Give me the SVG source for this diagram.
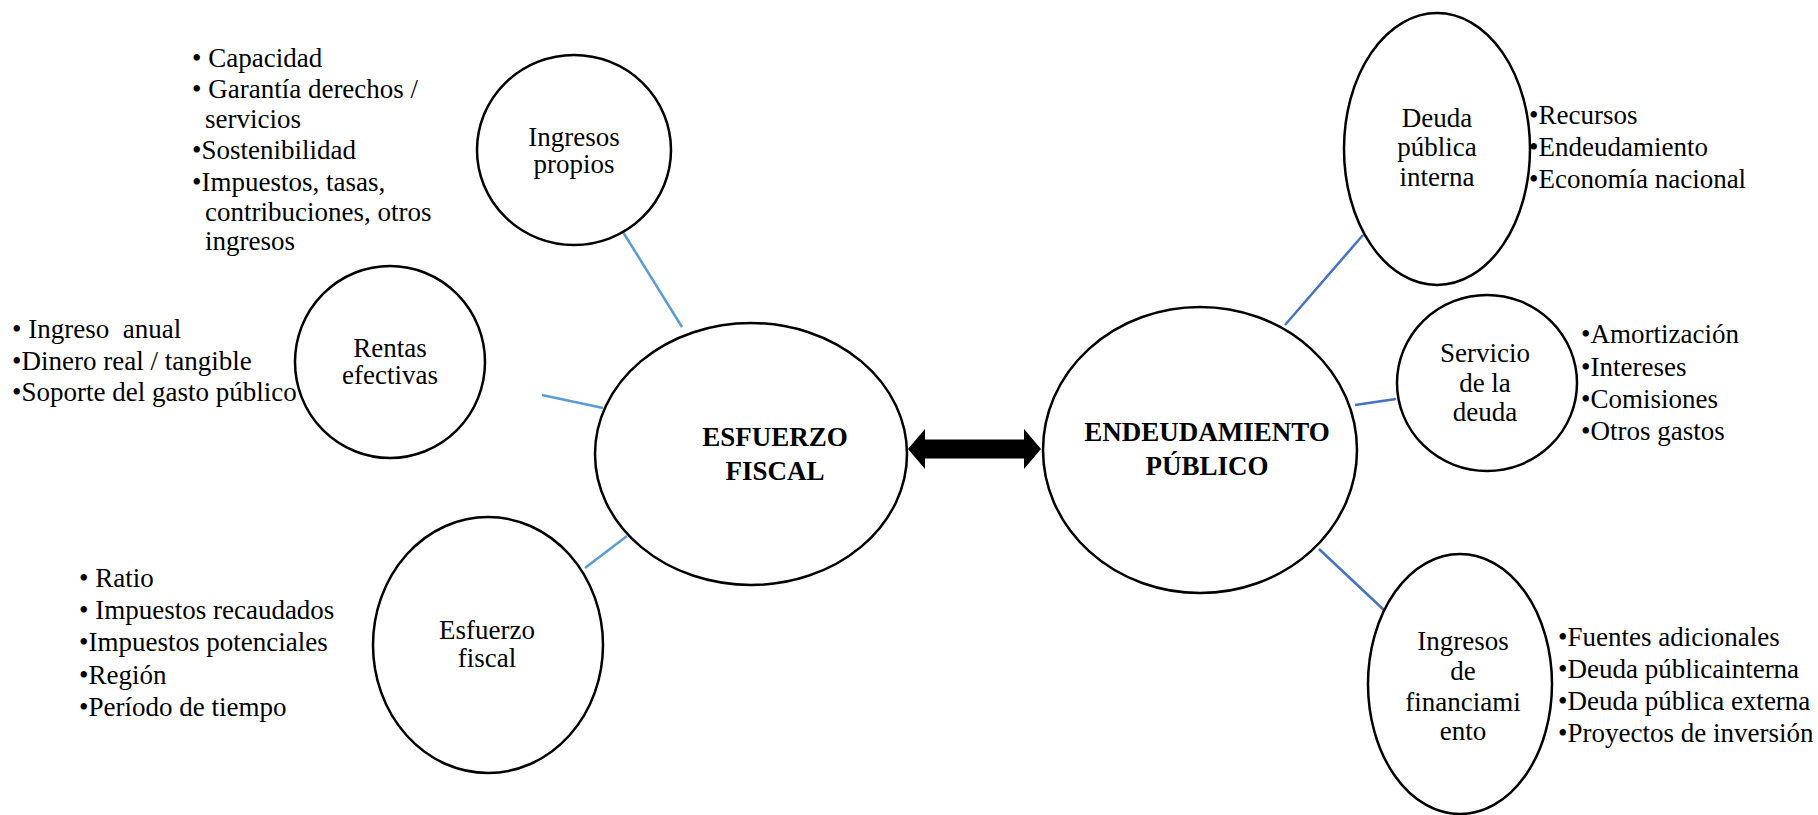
<svg xmlns="http://www.w3.org/2000/svg" width="1818" height="815" viewBox="0 0 1818 815">
<style>
.n{fill:#fff;stroke:#000;stroke-width:2.5}
.t{font-family:"Liberation Serif","Times New Roman","DejaVu Serif",serif;font-size:27px;fill:#000}
.c{text-anchor:middle}
.b{font-weight:bold}
.l1{stroke:#5B9BD5;stroke-width:2.5}
.l2{stroke:#4472C4;stroke-width:2.5}
</style>
<rect width="1818" height="815" fill="#fff"/>
<g id="connectors">
<line class="l1" x1="623" y1="232" x2="682" y2="327"/>
<line class="l1" x1="542" y1="395" x2="603" y2="408"/>
<line class="l1" x1="585" y1="568" x2="627" y2="536"/>
<line class="l2" x1="1285" y1="325" x2="1363" y2="235"/>
<line class="l2" x1="1355" y1="405" x2="1396" y2="399"/>
<line class="l2" x1="1319" y1="549" x2="1385" y2="611"/>
<polygon fill="#000" points="908,449 925,429 925,439.5 1024,439.5 1024,429 1041,449 1024,469 1024,458.5 925,458.5 925,469"/>
</g>
<g id="ingresos-propios">
<ellipse class="n" cx="574" cy="150" rx="97" ry="95"/>
<text class="t c" x="574" y="146">Ingresos</text>
<text class="t c" x="574" y="173">propios</text>
</g>
<g id="rentas-efectivas">
<ellipse class="n" cx="390" cy="362" rx="95" ry="96"/>
<text class="t c" x="390" y="357">Rentas</text>
<text class="t c" x="390" y="384">efectivas</text>
</g>
<g id="esfuerzo-fiscal-small">
<ellipse class="n" cx="488" cy="645" rx="115" ry="128"/>
<text class="t c" x="487" y="639">Esfuerzo</text>
<text class="t c" x="487" y="667">fiscal</text>
</g>
<g id="esfuerzo-fiscal">
<ellipse class="n" cx="751" cy="454" rx="156" ry="131"/>
<text class="t c b" x="775" y="446">ESFUERZO</text>
<text class="t c b" x="775" y="480">FISCAL</text>
</g>
<g id="endeudamiento-publico">
<ellipse class="n" cx="1200" cy="450" rx="157" ry="143"/>
<text class="t c b" x="1207" y="441">ENDEUDAMIENTO</text>
<text class="t c b" x="1207" y="475">PÚBLICO</text>
</g>
<g id="deuda-publica-interna">
<ellipse class="n" cx="1437" cy="149" rx="93" ry="136"/>
<text class="t c" x="1437" y="127">Deuda</text>
<text class="t c" x="1437" y="156">pública</text>
<text class="t c" x="1437" y="186">interna</text>
</g>
<g id="servicio-deuda">
<ellipse class="n" cx="1487" cy="383" rx="90" ry="88"/>
<text class="t c" x="1485" y="362">Servicio</text>
<text class="t c" x="1485" y="392">de la</text>
<text class="t c" x="1485" y="421">deuda</text>
</g>
<g id="ingresos-financiamiento">
<ellipse class="n" cx="1460" cy="684" rx="92" ry="130"/>
<text class="t c" x="1463" y="650">Ingresos</text>
<text class="t c" x="1463" y="680">de</text>
<text class="t c" x="1463" y="711">financiami</text>
<text class="t c" x="1463" y="740">ento</text>
</g>
<g id="list-ingresos-propios">
<text class="t" x="192" y="67">• Capacidad</text>
<text class="t" x="192" y="98">• Garantía derechos /</text>
<text class="t" x="205" y="128">servicios</text>
<text class="t" x="192" y="159">•Sostenibilidad</text>
<text class="t" x="192" y="191">•Impuestos, tasas,</text>
<text class="t" x="205" y="221">contribuciones, otros</text>
<text class="t" x="205" y="250">ingresos</text>
</g>
<g id="list-rentas">
<text class="t" x="12" y="338" xml:space="preserve">• Ingreso  anual</text>
<text class="t" x="12" y="370">•Dinero real / tangible</text>
<text class="t" x="12" y="401">•Soporte del gasto público</text>
</g>
<g id="list-esfuerzo">
<text class="t" x="79" y="587">• Ratio</text>
<text class="t" x="79" y="619">• Impuestos recaudados</text>
<text class="t" x="79" y="651">•Impuestos potenciales</text>
<text class="t" x="79" y="684">•Región</text>
<text class="t" x="79" y="716">•Período de tiempo</text>
</g>
<g id="list-deuda">
<text class="t" x="1529" y="124">•Recursos</text>
<text class="t" x="1529" y="156">•Endeudamiento</text>
<text class="t" x="1529" y="188">•Economía nacional</text>
</g>
<g id="list-servicio">
<text class="t" x="1581" y="343">•Amortización</text>
<text class="t" x="1581" y="376">•Intereses</text>
<text class="t" x="1581" y="408">•Comisiones</text>
<text class="t" x="1581" y="440">•Otros gastos</text>
</g>
<g id="list-financiamiento">
<text class="t" x="1558" y="646">•Fuentes adicionales</text>
<text class="t" x="1558" y="678">•Deuda públicainterna</text>
<text class="t" x="1558" y="710">•Deuda pública externa</text>
<text class="t" x="1558" y="742">•Proyectos de inversión</text>
</g>
</svg>
